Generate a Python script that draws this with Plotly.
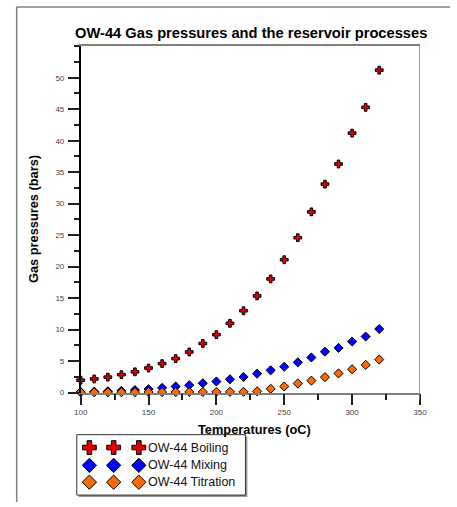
import plotly.graph_objects as go

temps = [100, 110, 120, 130, 140, 150, 160, 170, 180, 190, 200, 210, 220,
         230, 240, 250, 260, 270, 280, 290, 300, 310, 320]
boiling = [1.97, 2.17, 2.45, 2.85, 3.3, 3.9, 4.6, 5.4, 6.45, 7.8, 9.2, 11.0, 13.0,
           15.35, 18.05, 21.1, 24.6, 28.7, 33.1, 36.3, 41.2, 45.3, 51.2]
mixing = [0.1, 0.15, 0.2, 0.28, 0.4, 0.55, 0.75, 0.97, 1.18, 1.49, 1.76, 2.12, 2.48,
          3.0, 3.54, 4.1, 4.8, 5.58, 6.5, 7.1, 8.1, 8.9, 10.1]
titration = [0.05, 0.05, 0.06, 0.06, 0.07, 0.08, 0.08, 0.09, 0.1, 0.1, 0.11, 0.12, 0.13,
             0.2, 0.6, 0.97, 1.45, 1.9, 2.45, 3.05, 3.7, 4.4, 5.25]

series_names = ["OW-44 Boiling", "OW-44 Mixing", "OW-44 Titration"]
series_values = [boiling, mixing, titration]
series_colors = ["#e00000", "#0000ff", "#ff6a00"]
series_symbols = ["cross", "diamond", "diamond"]
x_ticks = [100, 150, 200, 250, 300, 350]
y_ticks = [0, 5, 10, 15, 20, 25, 30, 35, 40, 45, 50]

W, H = 457, 507
PL, PR, PT, PB = 76, 426, 46.7, 396.5  # plot area in px
LX0, LX1, LY0, LY1 = 72, 246, 439, 500  # legend box in px

def px(x):
    return x / W

def py(y):
    return 1 - y / H

FONT = "Liberation Sans, Arial, sans-serif"

fig = go.Figure()
for name, vals, col, sym in zip(series_names, series_values, series_colors, series_symbols):
    fig.add_trace(go.Scatter(
        x=temps, y=vals, mode="markers", name=name, cliponaxis=False,
        marker=dict(symbol=sym, size=6.5 if sym == "cross" else 7, color=col,
                    line=dict(color="black", width=1)),
        showlegend=False,
    ))

# legend glyphs (three per row) on a helper axis in pixel units
leg_rows = [452, 470, 487]
leg_cols = [85, 110, 136]
for i, (name, col, sym) in enumerate(zip(series_names, series_colors, series_symbols)):
    fig.add_trace(go.Scatter(
        x=leg_cols, y=[leg_rows[i]] * 3, mode="markers", xaxis="x2", yaxis="y2",
        cliponaxis=False, showlegend=False, hoverinfo="skip",
        marker=dict(symbol=sym, size=11.5 if sym == "cross" else 11, color=col,
                    line=dict(color="black", width=1)),
    ))

fig.update_layout(
    width=W, height=H,
    margin=dict(l=0, r=0, t=0, b=0),
    paper_bgcolor="white", plot_bgcolor="white",
    showlegend=False,
    font=dict(family=FONT, color="#333"),
    xaxis=dict(
        domain=[px(PL), px(PR)], range=[100, 350], tickvals=x_ticks,
        showgrid=False, zeroline=False, showline=True, mirror=True,
        linecolor="#808080", linewidth=1.5,
        ticks="outside", ticklen=11, tickwidth=1.5, tickcolor="#222",
        minor=dict(dtick=25, ticks="outside", ticklen=6, tickwidth=1.5, tickcolor="#222", showgrid=False),
        tickfont=dict(size=8, color="#444"),
    ),
    yaxis=dict(
        domain=[py(PB), py(PT)], range=[0, 55], tickvals=y_ticks,
        showgrid=False, zeroline=False, showline=True, mirror=False,
        linecolor="black", linewidth=1.5,
        ticks="outside", ticklen=11, tickwidth=1.5, tickcolor="#222",
        minor=dict(dtick=2.5, ticks="outside", ticklen=5, tickwidth=1.5, tickcolor="#222", showgrid=False),
        tickfont=dict(size=8, color="#444"), ticklabelstandoff=2,
    ),
    xaxis2=dict(domain=[px(LX0), px(LX1)], range=[LX0, LX1], visible=False,
                anchor="y2", fixedrange=True),
    yaxis2=dict(domain=[py(LY1), py(LY0)], range=[LY1, LY0], visible=False,
                anchor="x2", fixedrange=True),
)

shapes = [
    # outer frame (top and left)
    dict(type="line", xref="paper", yref="paper", x0=px(10), x1=1.0, y0=py(7), y1=py(7),
         line=dict(color="#808080", width=1.5)),
    dict(type="line", xref="paper", yref="paper", x0=px(10), x1=px(10), y0=py(7), y1=0,
         line=dict(color="#808080", width=1.5)),
    # right edge of plot area
    dict(type="line", xref="x", yref="paper", x0=350, x1=350, y0=py(PB + 7), y1=py(PT),
         line=dict(color="#808080", width=1.5)),
    # legend shadow and box
    dict(type="rect", xref="paper", yref="paper", x0=px(LX0 + 2), x1=px(LX1 + 2),
         y0=py(LY1 + 2), y1=py(LY0 + 2), line=dict(width=0), fillcolor="#999", layer="below"),
    dict(type="rect", xref="paper", yref="paper", x0=px(LX0), x1=px(LX1),
         y0=py(LY1), y1=py(LY0), line=dict(color="#333", width=1), fillcolor="white", layer="below"),
]
fig.update_layout(shapes=shapes)

annotations = [
    dict(text="<b>OW-44 Gas pressures and the reservoir processes</b>", x=px(251.5), y=py(33),
         xref="paper", yref="paper", showarrow=False, xanchor="center", yanchor="middle",
         font=dict(size=14.7, color="black", family=FONT)),
    dict(text="<b>Temperatures (oC)</b>", x=px(255), y=py(434), xref="paper", yref="paper",
         showarrow=False, xanchor="center", yanchor="middle",
         font=dict(size=12.8, color="black", family=FONT)),
    dict(text="<b>Gas pressures (bars)</b>", x=px(28), y=py(221), xref="paper", yref="paper",
         showarrow=False, xanchor="center", yanchor="middle", textangle=-90,
         font=dict(size=12.8, color="black", family=FONT)),
]
for i, name in enumerate(series_names):
    annotations.append(dict(text=name, x=px(143), y=py(leg_rows[i]), xref="paper", yref="paper",
                            showarrow=False, xanchor="left", yanchor="middle",
                            font=dict(size=12.5, color="#111", family=FONT)))
fig.update_layout(annotations=annotations)

fig.write_html("out.html")
